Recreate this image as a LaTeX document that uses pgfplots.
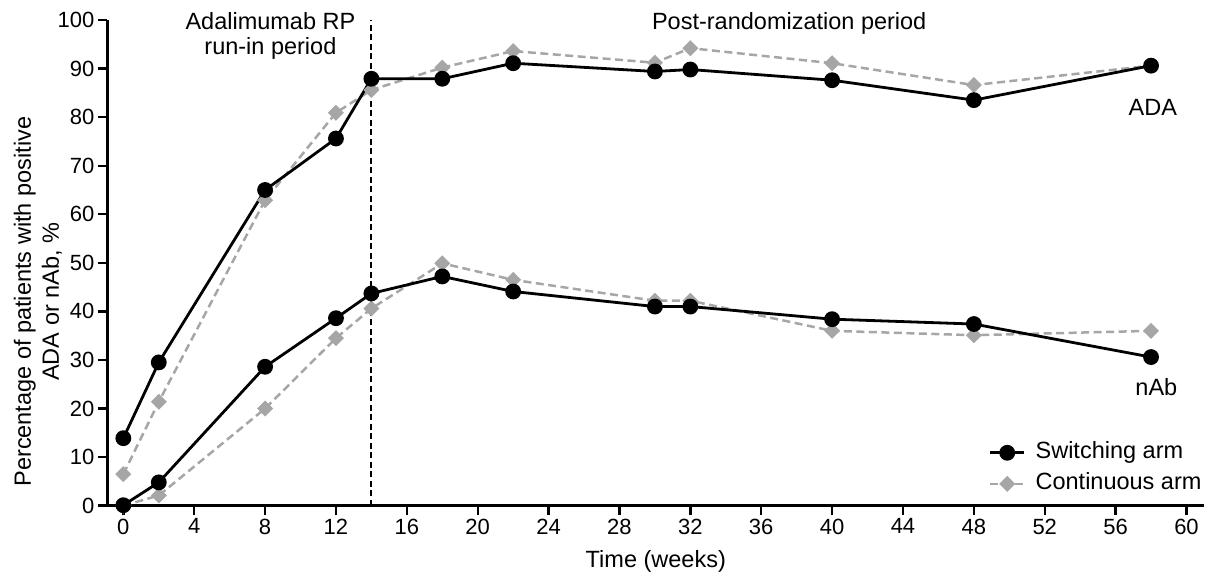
\documentclass[border=0pt]{standalone}
\usepackage{fontspec}
\setmainfont{Liberation Sans}
\usepackage{pgfplots}
\pgfplotsset{compat=1.18}
\definecolor{contgray}{RGB}{166,166,166}
\newcommand{\tickfont}{\fontsize{22bp}{25bp}\selectfont}
\newcommand{\txtfont}{\fontsize{23.5bp}{28bp}\selectfont}
\begin{document}
\begin{tikzpicture}
\begin{axis}[
  name=ax, scale only axis, width=1096.8bp, height=485.7bp,
  xmin=-0.9, xmax=61, ymin=0, ymax=100,
  axis x line*=bottom, axis y line*=left,
  axis line style={line width=2.6bp, -},
  xtick={0,4,...,60}, ytick={0,10,...,100},
  tick align=outside, major tick length=9.5bp,
  tick style={line width=2.4bp, black},
  /pgf/number format/assume math mode=true,
  ticklabel style={font=\tickfont},
  clip=false,
  xlabel={Time (weeks)},
  ylabel={Percentage of patients with positive\\ADA or nAb, \%},
  every axis x label/.style={at={(rel axis cs:0.5,0)}, yshift=-62.3bp, anchor=base, font=\txtfont},
  every axis y label/.style={at={(rel axis cs:0,0.42)}, xshift=-45.4bp, rotate=90, anchor=south, align=center, inner sep=0pt, font=\txtfont},
  reverse legend,
  legend cell align=left,
  legend image code/.code={\draw[mark repeat=2,mark phase=2,#1] plot coordinates {(0bp,0bp) (17bp,0bp) (34bp,0bp)};},
  legend style={at={(rel axis cs:1,0)}, anchor=south east, xshift=-2.5bp, yshift=10.7bp,
    draw=none, fill=none, inner sep=0pt, font=\txtfont, row sep=9bp,
    nodes={inner sep=0pt, text height=17bp, text depth=5bp},
    /tikz/every odd column/.append style={column sep=10bp}},
]
\addplot[black, line width=2bp, dash pattern=on 6bp off 3.5bp, forget plot] coordinates {(14,0) (14,100)};
% Continuous arm
\addplot[contgray, line width=2.5bp, dash pattern=on 8bp off 4.5bp, mark=square*, mark size=4.4bp, mark options={solid, rotate=45, fill=contgray, draw=contgray}]
coordinates {(0,6.5) (2,21.4) (8,62.9) (12,80.9) (14,85.6) (18,90.2) (22,93.6) (30,91.2) (32,94.2) (40,91.1) (48,86.6) (58,90.6)};
\addlegendentry{Continuous arm}
\addplot[contgray, line width=2.5bp, dash pattern=on 8bp off 4.5bp, mark=square*, mark size=4.4bp, mark options={solid, rotate=45, fill=contgray, draw=contgray}, forget plot]
coordinates {(0,0) (2,2.1) (8,20.0) (12,34.5) (14,40.6) (18,49.9) (22,46.5) (30,42.2) (32,42.2) (40,36.0) (48,35.1) (58,36.0)};
% Switching arm
\addplot[black, line width=2.8bp, mark=*, mark size=6.5bp, mark options={solid, fill=black}]
coordinates {(0,13.9) (2,29.5) (8,65.0) (12,75.6) (14,87.9) (18,87.9) (22,91.1) (30,89.4) (32,89.8) (40,87.6) (48,83.5) (58,90.6)};
\addlegendentry{Switching arm}
\addplot[black, line width=2.8bp, mark=*, mark size=6.5bp, mark options={solid, fill=black}, forget plot]
coordinates {(0,0.1) (2,4.8) (8,28.6) (12,38.6) (14,43.7) (18,47.2) (22,44.1) (30,41.0) (32,41.0) (40,38.4) (48,37.4) (58,30.6)};
\node[font=\txtfont, anchor=base] at (axis cs:8.3,98.1) {Adalimumab RP};
\node[font=\txtfont, anchor=base] at (axis cs:8.3,92.8) {run-in period};
\node[font=\txtfont, anchor=base] at (axis cs:37.58,98.1) {Post-randomization period};
\node[font=\txtfont, anchor=base] at (axis cs:58.1,80.4) {ADA};
\node[font=\txtfont, anchor=base] at (axis cs:58.3,22.6) {nAb};
\end{axis}
\pgfresetboundingbox
\path[use as bounding box] ([xshift=-107.4bp, yshift=-75.3bp]ax.south west) rectangle ([xshift=8.8bp, yshift=20bp]ax.north east);
\end{tikzpicture}
\end{document}
